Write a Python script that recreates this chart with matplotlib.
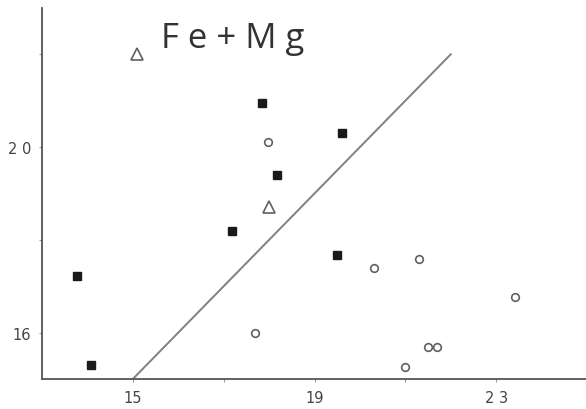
import matplotlib.pyplot as plt

# Données
sq_x = [17.85, 19.61, 18.18, 17.18, 19.49, 13.77, 14.08]
sq_y = [20.94, 20.31, 19.39, 18.18, 17.68, 17.21, 15.30]

circ_x = [17.98, 20.31, 21.29, 23.42, 17.68, 21.49, 21.70, 21.00]
circ_y = [20.12, 17.39, 17.59, 16.76, 16.00, 15.68, 15.70, 15.26]

tri_x = [15.10, 18.00]
tri_y = [22.00, 18.71]

line_x = [15, 22]
line_y = [15, 22]

xticks = [15, 17, 19, 21, 23]
xlabels = ["15", "", "19", "", "2 3"]
yticks = [16, 18, 20, 22]
ylabels = ["16", "", "2 0", ""]

fig = plt.figure(figsize=(5.86, 4.10), dpi=100)
ax = fig.add_axes([0.0717, 0.0732, 0.93, 0.905])

ax.plot(line_x, line_y, color="#808080", linewidth=1.4)
ax.plot(sq_x, sq_y, linestyle="none", marker="s", markersize=5.5,
        color="#1a1a1a")
ax.plot(circ_x, circ_y, linestyle="none", marker="o", markersize=5.5,
        markerfacecolor="white", markeredgecolor="#606060", markeredgewidth=1.2)
ax.plot(tri_x, tri_y, linestyle="none", marker="^", markersize=8.5,
        markerfacecolor="white", markeredgecolor="#606060", markeredgewidth=1.2)

ax.text(0.218, 0.965, "F e + M g", transform=ax.transAxes, fontsize=25,
        family="Open Sans", color="#333333", va="top", ha="left")

ax.set_xlim(13, 25)
ax.set_ylim(15, 23)
ax.set_xticks(xticks)
ax.set_xticklabels(xlabels)
ax.set_yticks(yticks)
ax.set_yticklabels(ylabels)
ax.tick_params(length=2, width=0.8, colors="#999999", labelcolor="#444444",
               labelsize=10.5, pad=6)

for s in ["top", "right"]:
    ax.spines[s].set_visible(False)
for s in ["left", "bottom"]:
    ax.spines[s].set_color("#555555")
    ax.spines[s].set_linewidth(1.3)

plt.savefig("out.png", dpi=100)
